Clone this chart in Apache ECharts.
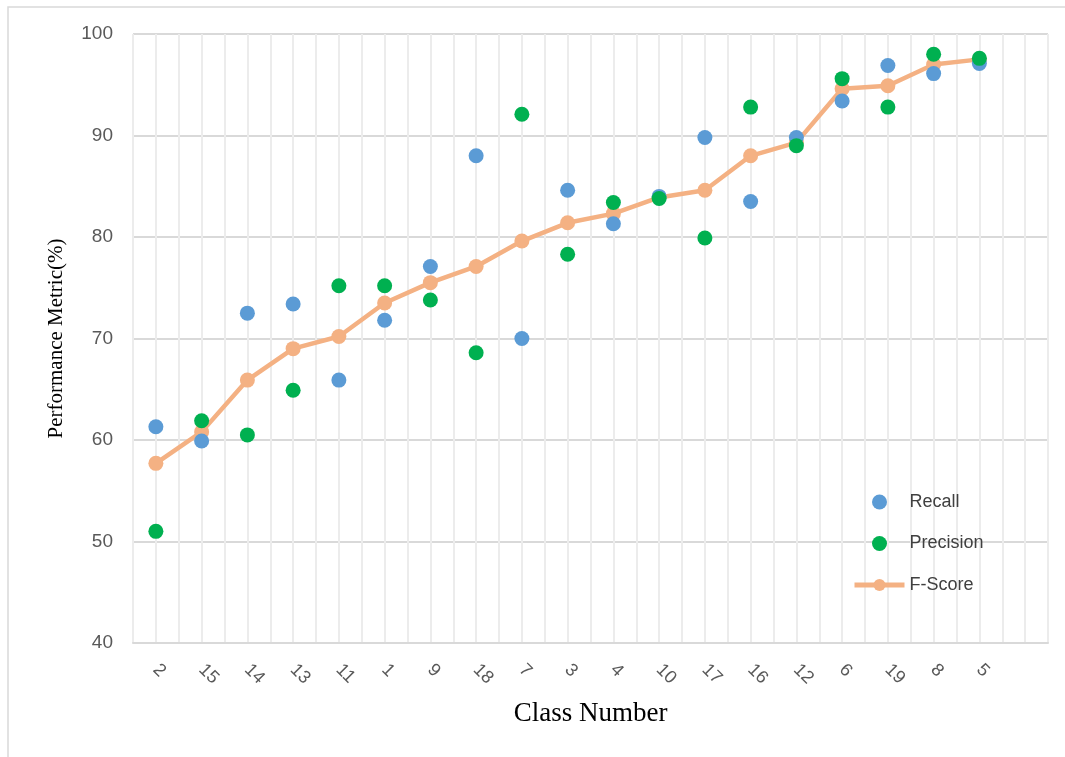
<!DOCTYPE html>
<html>
<head>
<meta charset="utf-8">
<script src="https://cdn.jsdelivr.net/npm/echarts@6/dist/echarts.min.js"></script>
<style>
  html, body { margin: 0; padding: 0; background: #fff; }
  #chart { width: 1065px; height: 757px; }
</style>
</head>
<body>
<div id="chart"></div>
<script>
// Classes ordered by F-Score; the trailing empty slot leaves room on the right
const classes = ['2', '15', '14', '13', '11', '1', '9', '18', '7', '3', '4', '10', '17', '16', '12', '6', '19', '8', '5', ''];
const recall    = [61.3, 59.9, 72.5, 73.4, 65.9, 71.8, 77.1, 88.0, 70.0, 84.6, 81.3, 84.0, 89.8, 83.5, 89.8, 93.4, 96.9, 96.1, 97.1];
const precision = [51.0, 61.9, 60.5, 64.9, 75.2, 75.2, 73.8, 68.6, 92.1, 78.3, 83.4, 83.8, 79.9, 92.8, 89.0, 95.6, 92.8, 98.0, 97.6];
const fScore    = [57.7, 60.8, 65.9, 69.0, 70.2, 73.5, 75.5, 77.1, 79.6, 81.4, 82.3, 83.9, 84.6, 88.0, 89.3, 94.6, 94.9, 97.0, 97.5];
const yTicks = { min: 40, max: 100, step: 10 };

const chart = echarts.init(document.getElementById('chart'), null, { renderer: 'canvas' });

const labelFont = '"Liberation Sans", "DejaVu Sans", sans-serif';
const titleFont = '"Liberation Serif", "DejaVu Serif", serif';

chart.setOption({
  backgroundColor: '#ffffff',
  animation: false,
  graphic: [{
    type: 'rect',
    shape: { x: 8, y: 7, width: 1080, height: 770 },
    style: { fill: 'none', stroke: '#d9d9d9', lineWidth: 1.5 },
    silent: true,
    z: -10
  }],
  grid: { left: 133, right: 17, top: 34, bottom: 114, containLabel: false },
  legend: {
    orient: 'vertical',
    left: 847,
    top: 488,
    itemWidth: 50,
    itemHeight: 15,
    itemGap: 23.5,
    textStyle: { fontFamily: labelFont, fontSize: 18, color: '#404040' },
    data: [
      { name: 'Recall', icon: 'circle' },
      { name: 'Precision', icon: 'circle' },
      { name: 'F-Score', lineStyle: { width: 5 } }
    ]
  },
  xAxis: [{
    type: 'category',
    data: classes,
    boundaryGap: true,
    name: 'Class Number',
    nameLocation: 'middle',
    nameGap: 57,
    nameTextStyle: { fontFamily: titleFont, fontSize: 27, color: '#000' },
    axisLine: { show: true, lineStyle: { color: '#d9d9d9', width: 2 } },
    axisTick: { show: false },
    axisLabel: {
      rotate: -45,
      interval: 0,
      margin: 24,
      fontFamily: labelFont,
      fontSize: 18,
      color: '#595959'
    },
    splitLine: { show: false }
  }, {
    // half-category grid lines
    type: 'value',
    position: 'bottom',
    min: 0, max: classes.length * 2, interval: 1,
    axisLine: { show: false },
    axisTick: { show: false },
    axisLabel: { show: false },
    splitLine: { show: true, lineStyle: { color: '#ececec', width: 2 } }
  }],
  yAxis: {
    type: 'value',
    min: yTicks.min, max: yTicks.max, interval: yTicks.step,
    name: 'Performance Metric(%)',
    nameLocation: 'middle',
    nameGap: 66,
    nameTextStyle: { fontFamily: titleFont, fontSize: 21, color: '#000' },
    axisLine: { show: false },
    axisTick: { show: false },
    axisLabel: { margin: 20, fontFamily: labelFont, fontSize: 19, color: '#595959' },
    splitLine: { show: true, lineStyle: { color: '#d9d9d9', width: 2 } }
  },
  series: [{
    name: 'F-Score',
    type: 'line',
    data: fScore,
    symbol: 'circle',
    symbolSize: 15,
    lineStyle: { color: '#F4B183', width: 4.5 },
    itemStyle: { color: '#F4B183' },
    z: 2
  }, {
    name: 'Recall',
    type: 'scatter',
    data: recall,
    symbolSize: 15,
    itemStyle: { color: '#5B9BD5', opacity: 1 },
    z: 3
  }, {
    name: 'Precision',
    type: 'scatter',
    data: precision,
    symbolSize: 15,
    itemStyle: { color: '#00B050', opacity: 1 },
    z: 4
  }]
});
</script>
</body>
</html>
